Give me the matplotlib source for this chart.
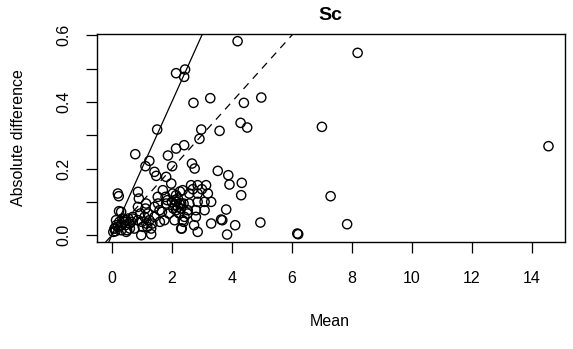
import matplotlib
matplotlib.use("Agg")
import matplotlib.pyplot as plt

plt.rcParams['font.family'] = ['Liberation Sans', 'DejaVu Sans']

# values (mean vs absolute difference)
mean_vals = [
    4.19, 8.19, 2.14, 2.44, 2.41, 2.72, 3.28, 1.51, 2.98, 2.92, 0.78, 1.87, 2.14, 2.41,
    1.25, 1.12, 2.01, 2.67, 2.76, 1.42, 1.48, 4.40, 4.98, 4.29, 4.51, 3.59, 7.00, 14.55,
    7.29, 7.84, 6.18, 6.21, 4.95,
    3.53, 3.88, 3.92, 4.33, 4.31, 3.81, 3.64, 3.68, 3.31, 4.11, 3.84, 2.86, 2.74, 2.31,
    2.64, 2.86, 3.14, 2.58, 2.86, 3.20, 3.31, 3.09, 2.86, 2.58, 3.09, 2.80, 2.53, 2.80,
    2.42, 2.14, 2.31, 2.14, 2.36, 2.09, 2.36, 2.70, 3.00,
    2.10, 2.15, 2.20, 2.25, 2.05, 2.20, 2.30, 2.00, 2.25,
    0.20, 0.23, 0.87, 0.90, 0.87, 1.14, 0.31, 0.14, 0.09, 0.05, 0.48, 0.59, 0.70, 0.87,
    1.09, 1.25, 1.42, 1.03, 1.31, 0.98, 1.31, 0.31, 0.48, 1.42, 1.59, 1.81, 1.53, 1.70,
    1.81, 1.98,
    1.90, 2.09, 1.85, 1.67, 1.54, 0.69, 0.51, 1.12, 1.18, 1.79, 2.03, 2.27, 2.39, 2.52,
    2.39, 2.33,
    0.10, 0.15, 0.20, 0.25, 0.30, 0.35, 0.40, 0.12, 0.45, 0.55, 0.60, 0.65, 0.75, 1.00,
    1.15, 0.95, 1.20, 1.35, 1.60, 1.75, 0.24,
]
abs_diff = [
    0.582, 0.547, 0.486, 0.497, 0.475, 0.397, 0.411, 0.317, 0.317, 0.289, 0.243, 0.239, 0.260, 0.270,
    0.223, 0.207, 0.207, 0.215, 0.200, 0.190, 0.178, 0.397, 0.413, 0.337, 0.323, 0.313, 0.325, 0.267,
    0.117, 0.033, 0.005, 0.003, 0.038,
    0.193, 0.180, 0.152, 0.157, 0.120, 0.077, 0.047, 0.045, 0.035, 0.030, 0.002, 0.010, 0.030, 0.020,
    0.150, 0.150, 0.150, 0.125, 0.125, 0.125, 0.100, 0.100, 0.100, 0.095, 0.075, 0.075, 0.075, 0.055,
    0.055, 0.075, 0.095, 0.120, 0.135, 0.045, 0.045, 0.138, 0.138,
    0.090, 0.100, 0.085, 0.095, 0.080, 0.110, 0.080, 0.100, 0.065,
    0.125, 0.117, 0.130, 0.110, 0.085, 0.095, 0.070, 0.045, 0.020, 0.010, 0.045, 0.035, 0.055, 0.045,
    0.055, 0.045, 0.055, 0.025, 0.020, 0.000, 0.003, 0.015, 0.010, 0.085, 0.075, 0.095, 0.115, 0.135,
    0.175, 0.155,
    0.065, 0.105, 0.105, 0.070, 0.095, 0.050, 0.015, 0.080, 0.025, 0.115, 0.125, 0.131, 0.095, 0.065,
    0.040, 0.020,
    0.020, 0.030, 0.025, 0.040, 0.030, 0.050, 0.040, 0.012, 0.030, 0.050, 0.020, 0.040, 0.020, 0.040,
    0.035, 0.065, 0.065, 0.035, 0.040, 0.045, 0.072,
]

# reference lines through the origin
solid_slope = 0.2
dashed_slope = 0.1

x_ticks = [0, 2, 4, 6, 8, 10, 12, 14]
y_ticks = [0.0, 0.1, 0.2, 0.3, 0.4, 0.5, 0.6]
y_tick_labels = ["0.0", "", "0.2", "", "0.4", "", "0.6"]

fig = plt.figure(figsize=(5.73, 3.49), dpi=100)
ax = fig.add_axes([0.169, 0.306, 0.817, 0.597])

ax.scatter(mean_vals, abs_diff, s=44, facecolors='none', edgecolors='black', linewidths=1.0, zorder=3)
ax.axline((0, 0), slope=solid_slope, color='black', lw=0.9)
ax.axline((0, 0), slope=dashed_slope, color='black', lw=0.9, dashes=(6, 5))

ax.set_xlim(-0.5, 15.1)
ax.set_ylim(-0.021, 0.604)
ax.set_xticks(x_ticks)
ax.set_yticks(y_ticks)
ax.set_yticklabels(y_tick_labels, rotation=90, va='center')
ax.tick_params(axis='both', labelsize=11.5, length=8, width=0.9, direction='out')
ax.tick_params(axis='x', pad=13)
ax.tick_params(axis='y', pad=10)
for sp in ax.spines.values():
    sp.set_linewidth(1.0)

fig.text(330 / 573, 1 - 15 / 349, "Sc", ha='center', va='center', fontsize=14, fontweight='bold')
fig.text(330 / 573, 1 - 322 / 349, "Mean", ha='center', va='center', fontsize=11.5)
fig.text(19 / 573, 1 - 138 / 349, "Absolute difference", ha='center', va='center',
         rotation=90, fontsize=11.5)

fig.savefig("out.png", dpi=100)
